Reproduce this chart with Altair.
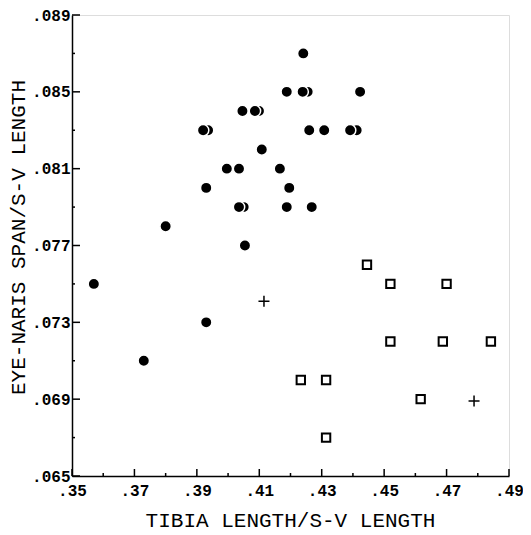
import altair as alt
import pandas as pd

# ---- data ----
circle_x = [0.357, 0.373, 0.380, 0.393, 0.393, 0.392, 0.3996, 0.4035, 0.4035, 0.4054,
            0.4046, 0.4086, 0.4108, 0.4166, 0.4196, 0.4188, 0.4268, 0.4188, 0.4239,
            0.4241, 0.4260, 0.4308, 0.4391, 0.4423]
circle_y = [0.075, 0.071, 0.078, 0.073, 0.080, 0.083, 0.081, 0.081, 0.079, 0.077,
            0.084, 0.084, 0.082, 0.081, 0.080, 0.079, 0.079, 0.085, 0.085,
            0.087, 0.083, 0.083, 0.083, 0.085]
# overlapping (duplicate) circles drawn behind
dup_x = [0.3936, 0.4050, 0.4099, 0.4255, 0.4412]
dup_y = [0.083, 0.079, 0.084, 0.085, 0.083]

square_x = [0.4445, 0.452, 0.470, 0.452, 0.4688, 0.4842, 0.4233, 0.4314, 0.4617, 0.4314]
square_y = [0.076, 0.075, 0.075, 0.072, 0.072, 0.072, 0.070, 0.070, 0.069, 0.067]

cross_x = [0.4115, 0.4788]
cross_y = [0.0741, 0.0689]

x_major = [0.35, 0.37, 0.39, 0.41, 0.43, 0.45, 0.47, 0.49]
x_minor = [0.36, 0.38, 0.40, 0.42, 0.44, 0.46, 0.48]
y_major = [0.065, 0.069, 0.073, 0.077, 0.081, 0.085, 0.089]
y_minor = [0.067, 0.071, 0.075, 0.079, 0.083, 0.087]

W, H = 437, 461
FONT = "Liberation Mono"

xs = alt.Scale(domain=[0.35, 0.49], nice=False, zero=False)
ys = alt.Scale(domain=[0.065, 0.089], nice=False, zero=False)

circles = pd.DataFrame({"x": circle_x, "y": circle_y})
dups = pd.DataFrame({"x": dup_x, "y": dup_y})
squares = pd.DataFrame({"x": square_x, "y": square_y})
crosses = pd.DataFrame({"x": cross_x, "y": cross_y})

base_x = alt.X("x:Q", scale=xs, title="TIBIA LENGTH/S-V LENGTH",
               axis=alt.Axis(values=x_major, ticks=False, grid=False,
                             labelExpr="replace(format(datum.value, '.2f'), '0.', '.')",
                             labelFont=FONT, labelFontWeight="bold", labelFontSize=16,
                             labelColor="black", labelPadding=6, labelFlush=False,
                             labelOverlap=False, domainColor="black", domainWidth=1.5,
                             titleFont=FONT, titleFontWeight="normal", titleFontSize=21,
                             titleColor="black", titleX=218, titleY=44,
                             titleBaseline="middle", titleAlign="center"))
base_y = alt.Y("y:Q", scale=ys, title="EYE-NARIS SPAN/S-V LENGTH",
               axis=alt.Axis(values=y_major, ticks=False, grid=False,
                             labelExpr="replace(format(datum.value, '.3f'), '0.', '.')",
                             labelFont=FONT, labelFontWeight="bold", labelFontSize=16,
                             labelColor="black", labelPadding=2, labelFlush=False,
                             labelOverlap=False, domainColor="black", domainWidth=1.5,
                             titleFont=FONT, titleFontWeight="normal", titleFontSize=21,
                             titleColor="black", titleX=-54, titleY=222, titleAngle=270,
                             titleBaseline="middle", titleAlign="center"))

dup_layer = alt.Chart(dups).mark_point(
    shape="circle", filled=True, size=130, color="black", opacity=1,
    stroke="white", strokeWidth=1.5
).encode(x=base_x, y=base_y)

circle_layer = alt.Chart(circles).mark_point(
    shape="circle", filled=True, size=130, fill="black", opacity=1,
    stroke="white", strokeWidth=1.5
).encode(x=alt.X("x:Q", scale=xs), y=alt.Y("y:Q", scale=ys))

square_layer = alt.Chart(squares).mark_point(
    shape="square", filled=False, size=70, color="black", opacity=1, strokeWidth=2
).encode(x=alt.X("x:Q", scale=xs), y=alt.Y("y:Q", scale=ys))

cross_layer = alt.Chart(crosses).mark_point(
    shape="M-1,0H1M0,-1V1", filled=False, size=121, color="black", opacity=1,
    strokeWidth=1.5
).encode(x=alt.X("x:Q", scale=xs), y=alt.Y("y:Q", scale=ys))

# inward ticks
xmaj = alt.Chart(pd.DataFrame({"v": x_major})).mark_rule(color="black", strokeWidth=1.5).encode(
    x=alt.X("v:Q", scale=xs), y=alt.value(H), y2=alt.value(H - 7))
xmin = alt.Chart(pd.DataFrame({"v": x_minor})).mark_rule(color="black", strokeWidth=1.5).encode(
    x=alt.X("v:Q", scale=xs), y=alt.value(H), y2=alt.value(H - 3))
ymaj = alt.Chart(pd.DataFrame({"v": y_major})).mark_rule(color="black", strokeWidth=1.5).encode(
    y=alt.Y("v:Q", scale=ys), x=alt.value(0), x2=alt.value(8))
ymin = alt.Chart(pd.DataFrame({"v": y_minor})).mark_rule(color="black", strokeWidth=1.5).encode(
    y=alt.Y("v:Q", scale=ys), x=alt.value(0), x2=alt.value(3))

chart = alt.layer(
    dup_layer, circle_layer, square_layer, cross_layer, xmaj, xmin, ymaj, ymin
).properties(
    width=W, height=H,
    autosize=alt.AutoSizeParams(type="none"),
    padding={"left": 64, "top": 7, "right": 14, "bottom": 58},
).configure_view(stroke=None).configure(background="white")

chart.save("out.html", embed_options={"renderer": "svg", "actions": False})
